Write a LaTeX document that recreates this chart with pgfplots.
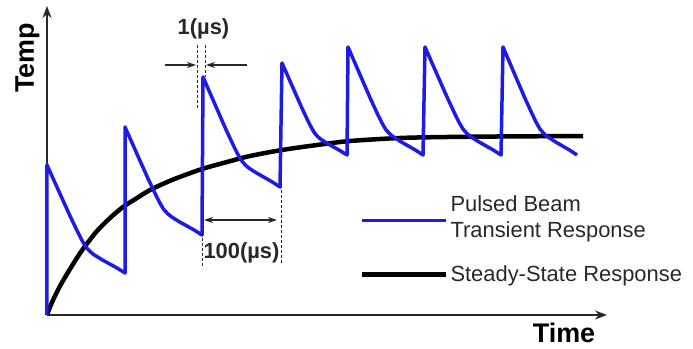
\documentclass[border=0pt]{standalone}
\usepackage{pgfplots}
\pgfplotsset{compat=1.18}
\usepackage{fontspec}
\setmainfont{Liberation Sans}
\usetikzlibrary{arrows.meta}
\definecolor{pblue}{RGB}{28,28,230}
\definecolor{anno}{RGB}{40,40,40}

\pgfplotstableread{
x y
0 0
0 150
7.8 132.7
15.6 115.4
23.4 98.2
31.2 82.0
35.1 74.4
39.0 67.9
42.9 63.6
46.8 60.4
54.6 55.5
62.4 51.2
70.2 46.9
78 42
78 188
85.7 170.7
93.4 153.4
101.1 136.2
108.8 120.0
112.65 112.4
116.5 105.9
120.35 101.6
124.2 98.4
131.9 93.5
139.6 89.2
147.3 84.9
155 80
156 238
163.7 220.4
171.4 202.8
179.1 185.2
186.8 168.7
190.65 161.0
194.5 154.4
198.35 150.0
202.2 146.7
209.9 141.8
217.6 137.4
225.3 133.0
233 128
235 252
241.5 237.3
248 222.6
254.5 207.8
261 194.0
264.25 187.6
267.5 182.1
270.75 178.4
274 175.6
280.5 171.5
287 167.8
293.5 164.1
300 160
301 268
308.5 250.7
316 233.4
323.5 216.2
331 200.0
334.75 192.4
338.5 185.9
342.25 181.6
346 178.4
353.5 173.5
361 169.2
368.5 164.9
376 160
378 268
385.6 250.7
393.2 233.4
400.8 216.2
408.4 200.0
412.2 192.4
416 185.9
419.8 181.6
423.6 178.4
431.2 173.5
438.8 169.2
446.4 164.9
454 160
456 268
463.4 250.7
470.8 233.4
478.2 216.2
485.6 200.0
489.3 192.4
493 185.9
496.7 181.6
500.4 178.4
507.8 173.5
515.2 169.2
522.6 164.9
530 160
}\pulsed

\pgfplotstableread{
x y
0 0
3 8
7 17
13 29
20 41
28 54
36 66
50 84
63 97
76 108
90 117
103 125
118 132
130 137
155 146
180 153
203 159
235 165
270 170
303 174
353 177
400 178
450 178.5
536 179
}\steady

\begin{document}
\begin{tikzpicture}
\begin{axis}[
  scale only axis, width=560bp, height=309bp,
  xmin=0, xmax=560, ymin=0, ymax=309,
  axis lines=left,
  axis line style={line width=1.8bp, anno, -{Stealth[length=12bp,width=9bp]}},
  ticks=none, clip=false,
  legend image code/.code={\draw[#1] (0bp,0bp) -- (84bp,0bp);},
  legend cell align=left,
  reverse legend,
  legend style={draw=none, fill=none, inner sep=0pt, outer sep=0pt,
    at={(axis cs:313,124)}, anchor=north west,
    font=\fontsize{22}{26}\selectfont, text=anno,
    nodes={inner sep=2bp}, row sep=36bp},
]
\addplot[black, line width=4.5bp, smooth, tension=0.5] table {\steady};
\addlegendentry{Steady-State Response}
\addplot[pblue, line width=3.5bp, line join=round, legend image post style={yshift=-11bp}] table {\pulsed};
\addlegendentry{\begin{tabular}{@{}l@{}}Pulsed Beam\\Transient Response\end{tabular}}

% annotations
\draw[anno, line width=1bp, dash pattern=on 3bp off 2bp] (axis cs:150,270) -- (axis cs:150,207);
\draw[anno, line width=1bp, dash pattern=on 3bp off 2bp] (axis cs:158,270) -- (axis cs:158,238);
\draw[anno, line width=1.3bp, -{Stealth[length=9bp,width=6bp]}] (axis cs:118,250) -- (axis cs:149,250);
\draw[anno, line width=1.3bp, -{Stealth[length=9bp,width=6bp]}] (axis cs:200,250) -- (axis cs:159,250);
\draw[anno, line width=1.3bp, {Stealth[length=9bp,width=6bp]}-{Stealth[length=9bp,width=6bp]}] (axis cs:157,95) -- (axis cs:230,95);
\draw[anno, line width=1bp, dash pattern=on 3bp off 2bp] (axis cs:155,82) -- (axis cs:155,47);
\draw[anno, line width=1bp, dash pattern=on 3bp off 2bp] (axis cs:234.5,130) -- (axis cs:234.5,52);
\node[anno, font=\bfseries\fontsize{22}{26}\selectfont, anchor=base, inner sep=0pt] at (axis cs:156.5,280) {1(µs)};
\node[anno, font=\bfseries\fontsize{22}{26}\selectfont, anchor=base, inner sep=0pt] at (axis cs:194.5,57) {100(µs)};
\node[black, font=\bfseries\fontsize{27}{32}\selectfont, anchor=base, inner sep=0pt] at (axis cs:517,-27) {Time};
\node[black, font=\bfseries\fontsize{27}{32}\selectfont, anchor=base, rotate=90, inner sep=0pt] at (axis cs:-13,257) {Temp};
\path (axis cs:-47,-33) rectangle (axis cs:646,315);
\end{axis}
\end{tikzpicture}
\end{document}
